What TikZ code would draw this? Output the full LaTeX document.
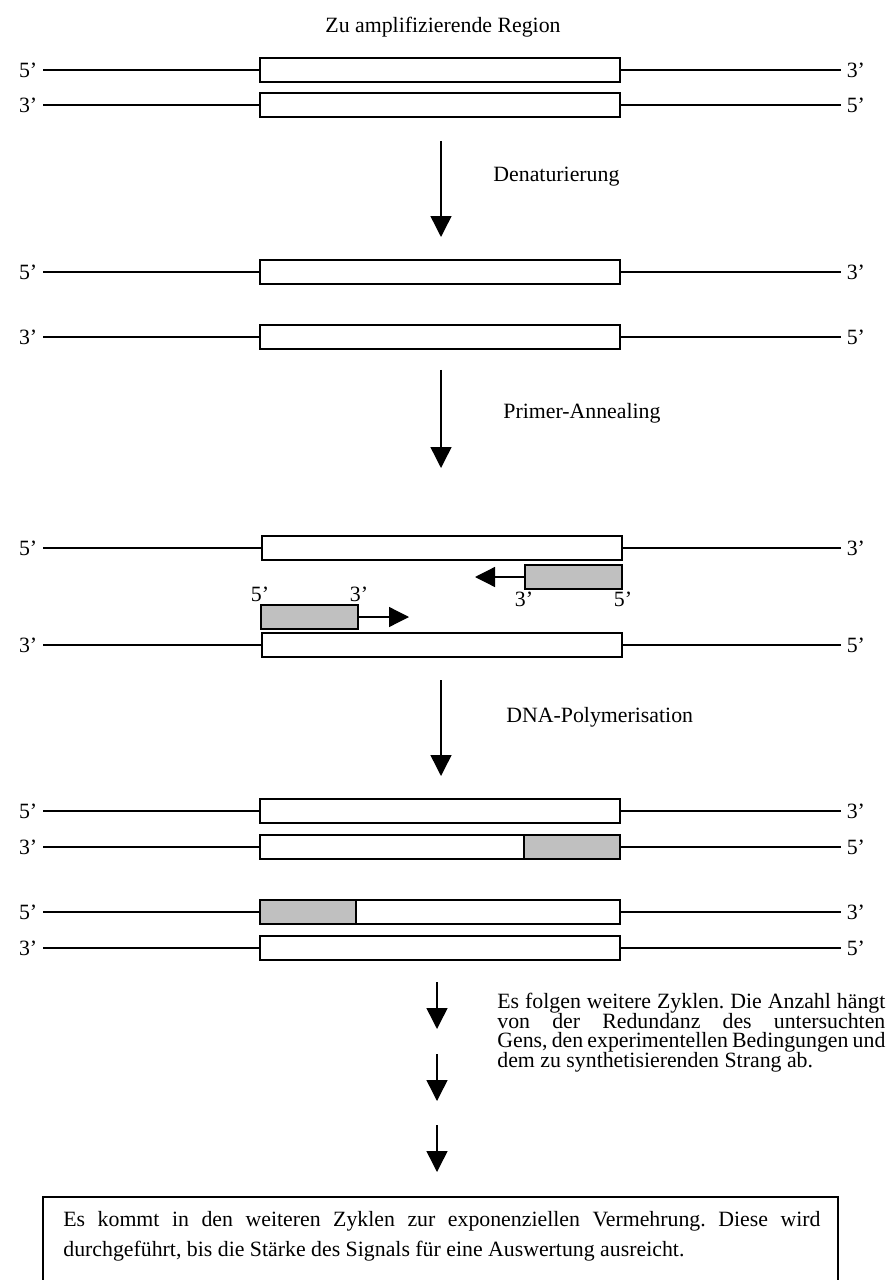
\documentclass[tikz,border=0pt]{standalone}
\usepackage{fontspec}
\setmainfont{Liberation Serif}
\usepackage{xcolor}
\usetikzlibrary{arrows.meta,positioning}

\definecolor{primergray}{RGB}{192,192,192}
\frenchspacing
\newcommand\tightlines{\lineskiplimit=-20pt\relax}

\tikzset{
  strand/.style={line width=0.8pt},
  dnabox/.style={draw, line width=1.1pt, fill=white, minimum width=198.5pt,
    minimum height=13.5pt, inner sep=0pt},
  primerbox/.style={draw, line width=1.1pt, fill=primergray, minimum width=53.3pt,
    minimum height=13.5pt, inner sep=0pt},
  endlbl/.style={inner sep=1pt},
  steparrow/.style={line width=0.8pt, -{Triangle[length=11.5pt,width=11.5pt]}},
  primerarrow/.style={line width=0.7pt, -{Triangle[length=11pt,width=11pt]}},
}

\begin{document}
\begin{tikzpicture}[x=0.55pt,y=-0.55pt,font=\fontsize{12}{14}\selectfont]
\useasboundingbox (0,0) rectangle (891,1280);
\node (title) at (443,27) {Zu amplifizierende Region};
% strands with region
\foreach \n/\y/\l/\r/\c in {a/70/5/3/440, b/105/3/5/440, c/272/5/3/440, d/337/3/5/440,
    e/548/5/3/442, f/645/3/5/442, g/811/5/3/440, h/847/3/5/440, i/912/5/3/440, j/948/3/5/440}{
  \node[dnabox] (\n) at (\c,\y) {};
  \node[endlbl,inner xsep=3pt,anchor=east] (\n l) at (43,\y) {\l’};
  \node[endlbl,inner xsep=3pt,anchor=west] (\n r) at (841,\y) {\r’};
  \draw[strand] (\n l) -- (\n);
  \draw[strand] (\n) -- (\n r);
}
% synthesised parts
\node[primerbox,anchor=east] (hp) at (h.east) {};
\node[primerbox,anchor=west] (ip) at (i.west) {};
% primers
\node[primerbox] (pr) at (573.5,577) {};
\node[primerbox] (pl) at (309.5,617) {};
\coordinate (prtip) at (475,577);
\coordinate (pltip) at (409,617);
\draw[primerarrow] (pr) -- (prtip);
\draw[primerarrow] (pl) -- (pltip);
\node[endlbl,anchor=north] (prl) at (pr.south west) {3’};
\node[endlbl,anchor=north] (prr) at (pr.south east) {5’};
\node[endlbl,anchor=south] (pll) at (pl.north west) {5’};
\node[endlbl,anchor=south] (plr) at (pl.north east) {3’};
% steps
\coordinate (s1a) at (441,141); \coordinate (s1b) at (441,237);
\coordinate (s2a) at (441,370); \coordinate (s2b) at (441,468);
\coordinate (s3a) at (441,680); \coordinate (s3b) at (441,776);
\draw[steparrow] (s1a) -- (s1b);
\draw[steparrow] (s2a) -- (s2b);
\draw[steparrow] (s3a) -- (s3b);
\node[anchor=west] (denat) at (487,177) {Denaturierung};
\node[anchor=west] (anneal) at (497,413) {Primer-Annealing};
\node[anchor=west] (polym) at (500,717) {DNA-Polymerisation};
% further cycles
\foreach \k/\ya/\yb in {1/982/1029, 2/1054/1101, 3/1125/1172}{
  \coordinate (z\k a) at (437,\ya); \coordinate (z\k b) at (437,\yb);
  \draw[steparrow] (z\k a) -- (z\k b);
}
\node[anchor=north west,inner sep=0pt,align=left,
  font=\fontsize{12}{10.7}\selectfont\tightlines] (cycles) at (497,993)
  {\makebox[213.4pt][s]{Es folgen weitere Zyklen. Die Anzahl hängt}\\
   \makebox[213.4pt][s]{von der Redundanz des untersuchten}\\
   \makebox[213.4pt][s]{Gens, den experimentellen Bedingungen und}\\
   dem zu synthetisierenden Strang ab.};
\draw[line width=1pt] (43,1197) rectangle (838,1300);
\node[anchor=north west,inner sep=0pt,align=left,
  font=\fontsize{12}{16.5}\selectfont] (result) at (63,1211)
  {\makebox[416.4pt][s]{Es kommt in den weiteren Zyklen zur exponenziellen Vermehrung. Diese wird}\\
   durchgeführt, bis die Stärke des Signals für eine Auswertung ausreicht.};
\end{tikzpicture}
\end{document}
